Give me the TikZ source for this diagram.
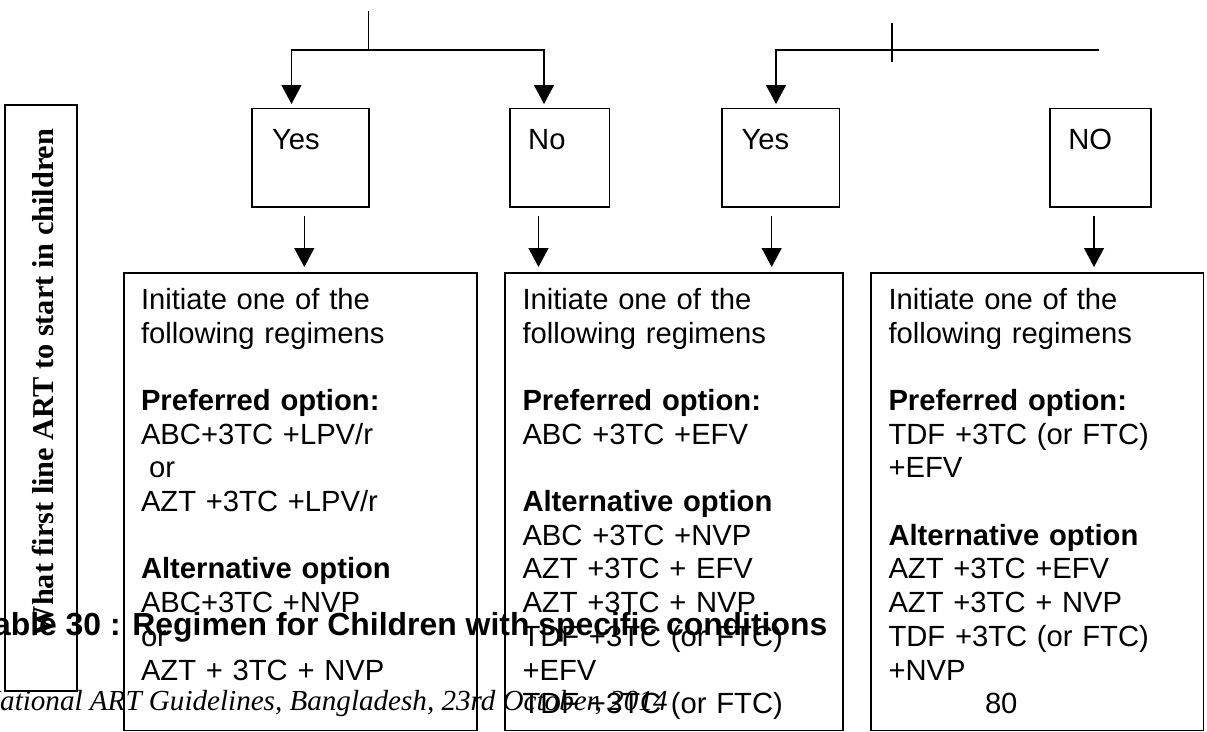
\documentclass[tikz,border=0pt]{standalone}
\usepackage{fontspec}
\newfontfamily\sansf{Liberation Sans}
\newfontfamily\seriff{Liberation Serif}
\usetikzlibrary{arrows.meta,calc}

\begin{document}
\begin{tikzpicture}[x=1pt,y=-1pt,
  frame/.style={draw, rectangle, line width=1.6pt, inner sep=0pt, anchor=north west},
  link/.style={line width=1.3pt},
  arr/.style={link, -{Triangle[length=19pt,width=20pt]}},
  tag/.style={anchor=base west, inner sep=0pt, font=\sansf\fontsize{29.2}{33.7}\selectfont},
  boxtext/.style={anchor=base west, inner sep=0pt, text width=330pt, align=left,
                  font=\sansf\fontsize{29.2}{33.7}\selectfont},
]
\useasboundingbox (0,0) rectangle (1207,731);
\clip (0,0) rectangle (1207,731);

% side caption box
\node[frame, minimum width=72pt, minimum height=585.7pt] (sidebox) at (4,104.3) {};
\node[rotate=90, anchor=base, inner sep=0pt,
      font=\seriff\bfseries\fontsize{30.3}{34}\selectfont] (side) at (53,382.5)
      {What first line ART to start in children};

% decision boxes
\node[frame, minimum width=117.3pt, minimum height=98.5pt] (yes1) at (251,107.7) {};
\node[frame, minimum width=99.5pt,  minimum height=98.5pt] (no1)  at (509,107.7) {};
\node[frame, minimum width=117.5pt, minimum height=98.5pt] (yes2) at (721,107.7) {};
\node[frame, minimum width=101pt,   minimum height=98.5pt] (no2)  at (1049,107.7) {};

\node[tag] (yes1t) at ($(yes1.north west)+(20.8,42)$) {Yes};
\node[tag] (no1t)  at ($(no1.north west)+(19,42)$)   {No};
\node[tag] (yes2t) at ($(yes2.north west)+(20.3,42)$) {Yes};
\node[tag] (no2t)  at ($(no2.north west)+(19.2,42)$)  {NO};

% regimen boxes
\node[frame, minimum width=352.7pt, minimum height=457.5pt] (b1) at (123.3,272.3) {};
\node[frame, minimum width=338pt,   minimum height=457.5pt] (b2) at (504,272.3) {};
\node[frame, minimum width=332.5pt, minimum height=457.5pt] (b3) at (870,272.3) {};

\node[boxtext] (t1) at (140.8,309.3) {Initiate one of the\\ following regimens\\[33.7pt]
  \textbf{Preferred option:}\\ ABC+3TC +LPV/r\\ \hspace*{8.1pt}or\\ AZT +3TC +LPV/r\\[33.7pt]
  \textbf{Alternative option}\\ ABC+3TC +NVP\\ or\\ AZT + 3TC + NVP};
\node[boxtext] (t2) at (522.3,309.3) {Initiate one of the\\ following regimens\\[33.7pt]
  \textbf{Preferred option:}\\ ABC +3TC +EFV\\[33.7pt]
  \textbf{Alternative option}\\ ABC +3TC +NVP\\ AZT +3TC + EFV\\ AZT +3TC + NVP\\
  TDF +3TC (or FTC)\\ +EFV\\ TDF +3TC (or FTC)};
\node[boxtext] (t3) at (888.3,309.3) {Initiate one of the\\ following regimens\\[33.7pt]
  \textbf{Preferred option:}\\ TDF +3TC (or FTC)\\ +EFV\\[33.7pt]
  \textbf{Alternative option}\\ AZT +3TC +EFV\\ AZT +3TC + NVP\\ TDF +3TC (or FTC)\\
  +NVP\\ \hspace*{96.5pt}80};

% branch lines above the decision boxes
\coordinate (stem) at (368.3,11);
\coordinate (fork1) at (368.3,50);
\draw[link] (stem) -- (fork1);
\draw[arr] (fork1) -| ([xshift=40.5pt,yshift=3.7pt]yes1.north west);
\draw[arr] (fork1) -| ([xshift=35pt,yshift=3.7pt]no1.north west);

\coordinate (fork2) at (1099,50);
\coordinate (tickT) at (892,22.7);
\coordinate (tickB) at (892,62.3);
\draw[arr] (fork2) -| ([xshift=55pt,yshift=3.7pt]yes2.north west);
\draw[link] (tickT) -- (tickB);

% arrows into the regimen boxes
\path ($(yes1.south west)+(53.3,7.8)$) coordinate (s1);
\path ($(no1.south west)+(29.5,7.8)$) coordinate (s2);
\path ($(yes2.south west)+(50.7,7.8)$) coordinate (s3);
\path ($(no2.south west)+(45,7.8)$) coordinate (s4);
\draw[arr, shorten >=5.3pt] (s1) -- (s1 |- b1.north);
\draw[arr, shorten >=5.3pt] (s2) -- (s2 |- b2.north);
\draw[arr, shorten >=5.3pt] (s3) -- (s3 |- b2.north);
\draw[arr, shorten >=5.3pt] (s4) -- (s4 |- b3.north);

% page heading and running footer
\node[anchor=base west, inner sep=0pt,
      font=\sansf\bfseries\fontsize{31.9}{36}\selectfont] (title) at (-24.3,635)
      {Table 30 : Regimen for Children with specific conditions};
\node[anchor=base west, inner sep=0pt,
      font=\seriff\itshape\fontsize{29.1}{33}\selectfont] (foot) at (-19.4,710.5)
      {National ART Guidelines, Bangladesh, 23rd October, 2014};
\end{tikzpicture}
\end{document}
